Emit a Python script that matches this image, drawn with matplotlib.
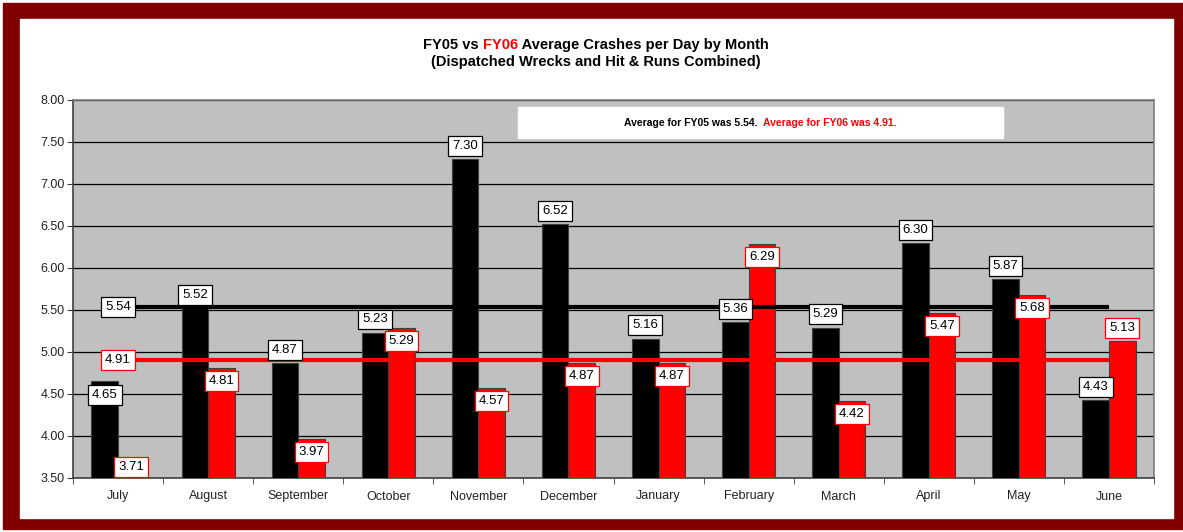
import numpy as np
import matplotlib
matplotlib.use("Agg")
import matplotlib.pyplot as plt
from matplotlib.patches import Rectangle

plt.rcParams["font.family"] = ["Liberation Sans", "DejaVu Sans"]

# data
months = ["July", "August", "September", "October", "November", "December",
          "January", "February", "March", "April", "May", "June"]
fy05 = [4.65, 5.52, 4.87, 5.23, 7.30, 6.52, 5.16, 5.36, 5.29, 6.30, 5.87, 4.43]
fy06 = [3.71, 4.81, 3.97, 5.29, 4.57, 4.87, 4.87, 6.29, 4.42, 5.47, 5.68, 5.13]
avg05 = 5.54
avg06 = 4.91
# label placement: 1 = above bar top, -1 = below
pos05 = [-1, 1, 1, 1, 1, 1, 1, 1, 1, 1, 1, 1]
pos06 = [-0.5, -1, -1, -1, -1, -1, -1, -1, -1, -1, -1, 1]

W, H = 1183, 532
fig = plt.figure(figsize=(W / 100, H / 100), dpi=100)
fig.patch.set_facecolor("white")

# maroon frame + white chart area
fig.patches.append(Rectangle((3 / W, 1 - 529 / H), 1180 / W, 526 / H,
                             transform=fig.transFigure, color="#800000", zorder=-3))
fig.patches.append(Rectangle((20 / W, 1 - 518 / H), 1153 / W, 499 / H,
                             transform=fig.transFigure, color="white", zorder=-2))

ax = fig.add_axes([73 / W, 1 - 478 / H, (1154 - 73) / W, (478 - 100) / H])
ax.set_facecolor("#C0C0C0")

x = np.arange(len(months))
bw = 0.295
ax.bar(x - bw / 2, fy05, bw, bottom=0, color="black", edgecolor="#404040",
       linewidth=0.8, zorder=3)
ax.bar(x + bw / 2, fy06, bw, bottom=0, color="#FF0000", edgecolor="#404040",
       linewidth=0.8, zorder=3)

ax.set_ylim(3.5, 8.0)
ax.set_xlim(-0.5, len(months) - 0.5)
ax.set_yticks(np.arange(3.5, 8.01, 0.5))
ax.set_yticklabels(["%.2f" % v for v in np.arange(3.5, 8.01, 0.5)], fontsize=9,
                   color="#222222")
ax.yaxis.grid(True, color="black", linewidth=0.9, zorder=1)
ax.set_axisbelow(True)

ax.set_xticks(x)
ax.set_xticklabels(months, fontsize=9, color="#222222")
ax.tick_params(axis="x", length=0, pad=9)
ax.set_xticks(np.arange(-0.5, len(months), 1), minor=True)
ax.tick_params(axis="x", which="minor", length=4, direction="out", color="#404040")
ax.tick_params(axis="y", length=4, direction="out", color="#404040", pad=2)

for s in ["left", "bottom"]:
    ax.spines[s].set_color("#404040")
    ax.spines[s].set_linewidth(1.2)
for s in ["top", "right"]:
    ax.spines[s].set_color("#808080")
    ax.spines[s].set_linewidth(1.2)

# average lines
ax.plot([x[0], x[-1]], [avg05, avg05], color="black", lw=3, zorder=4,
        solid_capstyle="butt")
ax.plot([x[0], x[-1]], [avg06, avg06], color="#FF0000", lw=3, zorder=4,
        solid_capstyle="butt")

def box(ec):
    return dict(boxstyle="square,pad=0.3", fc="white", ec=ec, lw=0.9)

ax.text(x[0], avg05, "%.2f" % avg05, ha="center", va="center", fontsize=9.5,
        bbox=box("black"), zorder=6)
ax.text(x[0], avg06, "%.2f" % avg06, ha="center", va="center", fontsize=9.5,
        bbox=box("#FF0000"), zorder=6)

for i in range(len(months)):
    ax.annotate("%.2f" % fy05[i], (x[i] - bw / 2, fy05[i]),
                xytext=(0, 9.5 * pos05[i]), textcoords="offset points",
                ha="center", va="center", fontsize=9.5, bbox=box("black"), zorder=6)
    ax.annotate("%.2f" % fy06[i], (x[i] + bw / 2, fy06[i]),
                xytext=(0, 9.5 * pos06[i]), textcoords="offset points",
                ha="center", va="center", fontsize=9.5, bbox=box("#FF0000"), zorder=6)

# average box sits on top of the plot area
fig.patches.append(Rectangle((518 / W, 1 - 138 / H), 485 / W, 31 / H,
                             transform=fig.transFigure, color="white", zorder=1))
fig.canvas.draw()
r = fig.canvas.get_renderer()

def colored_line(parts, xc, y, size):
    texts = [fig.text(0, y, s, color=c, fontsize=size, fontweight="bold",
                      ha="left", va="center", zorder=2) for s, c in parts]
    widths = [t.get_window_extent(r).width / W for t in texts]
    x0 = xc - sum(widths) / 2
    for t, w in zip(texts, widths):
        t.set_x(x0)
        x0 += w

colored_line([("FY05 vs ", "black"), ("FY06", "#FF0000"),
              (" Average Crashes per Day by Month", "black")], 596 / W, 1 - 45 / H, 10.5)
fig.text(596 / W, 1 - 62 / H, "(Dispatched Wrecks and Hit & Runs Combined)",
         fontsize=10.5, fontweight="bold", ha="center", va="center")
colored_line([("Average for FY05 was %.2f.  " % avg05, "black"),
              ("Average for FY06 was %.2f." % avg06, "#FF0000")], 760.5 / W, 1 - 123 / H, 7.5)

fig.savefig("out.png", dpi=100, facecolor=fig.get_facecolor())
